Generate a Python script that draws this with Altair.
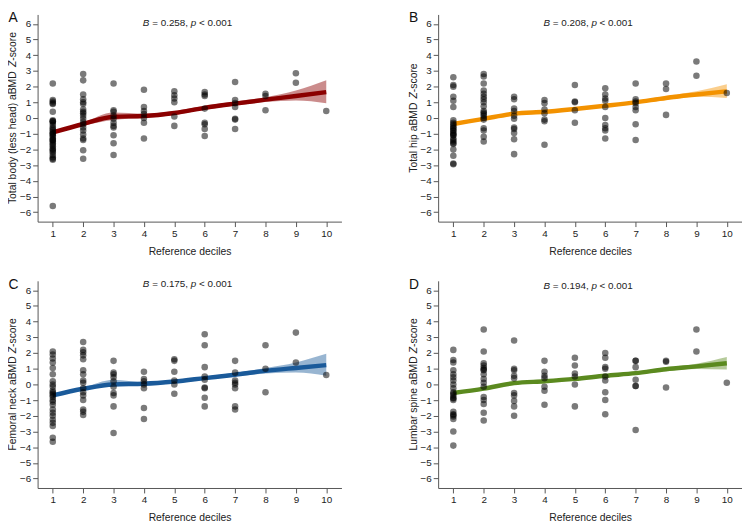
import altair as alt
import pandas as pd

DECILES = list(range(1, 11))
FIT_X = list(range(1, 11))

# ---------- Panel A: Total body (less head) ----------
PTS_A = {
    1: [2.2, 1.15, 1.05, 0.95, 0.9, 0.4, -0.15, -0.2, -0.2, -0.3, -0.45, -0.6, -0.7, -0.8,
        -0.9, -1.0, -1.0, -1.1, -1.2, -1.3, -1.4, -1.4, -1.5, -1.6, -1.7, -1.8, -1.95, -2.0,
        -2.1, -2.2, -2.35, -2.5, -2.6, -2.65, -5.6],
    2: [2.8, 2.4, 1.5, 1.2, 1.0, 0.9, 0.55, 0.4, 0.3, 0.15, -0.05, -0.25, -0.4, -0.6, -0.8,
        -1.05, -1.3, -1.4, -2.05, -2.6],
    3: [2.2, 0.5, 0.4, 0.15, -0.05, -0.3, -0.5, -0.6, -1.1, -1.6, -2.35],
    4: [1.8, 0.7, 0.45, 0.25, 0.0, -0.3, -1.3],
    5: [1.7, 1.45, 1.25, 1.0, 0.1, -0.5],
    6: [1.65, 1.5, 1.4, 0.6, -0.3, -0.4, -0.7, -1.15],
    7: [2.3, 1.15, 0.95, 0.7, -0.05, -0.1, -0.7],
    8: [1.55, 1.4, 0.5],
    9: [2.85, 2.25],
    10: [0.45],
}
FIT_A = [-0.92, -0.38, 0.08, 0.13, 0.32, 0.65, 0.92, 1.17, 1.4, 1.65]
LO_A = [-1.0, -0.48, -0.12, 0.0, 0.2, 0.52, 0.8, 1.02, 1.12, 0.95]
HI_A = [-0.84, -0.28, 0.35, 0.28, 0.45, 0.78, 1.05, 1.32, 1.75, 2.4]

# ---------- Panel B: Total hip ----------
PTS_B = {
    1: [2.6, 2.1, 2.0, 1.35, 1.1, 0.7, -0.15, -0.3, -0.5, -0.65, -0.8, -0.8, -0.95, -1.1,
        -1.1, -1.3, -1.4, -1.5, -1.6, -1.65, -2.0, -2.4, -2.9, -2.95, -0.6, -1.0, -0.4],
    2: [2.8, 2.65, 2.2, 1.75, 1.55, 1.35, 1.2, 1.0, 0.75, 0.45, 0.35, 0.25, 0.15, 0.0, -0.1,
        -0.65, -0.8, -1.2, -1.5],
    3: [1.35, 1.2, 0.6, 0.45, 0.15, -0.05, -0.6, -0.7, -0.95, -1.35, -2.3],
    4: [1.15, 0.95, 0.55, 0.3, -0.1, -0.2, -1.7],
    5: [2.1, 1.05, 1.0, 0.5, -0.3],
    6: [1.9, 1.5, 1.25, 1.1, 0.7, 0.0, -0.45, -0.65, -0.8, -1.3],
    7: [2.2, 1.2, 1.05, 0.95, 0.7, 0.5, -0.4, -1.4],
    8: [2.2, 1.85, 0.2],
    9: [3.6, 2.7],
    10: [1.6],
}
FIT_B = [-0.38, -0.05, 0.28, 0.4, 0.58, 0.78, 1.0, 1.28, 1.5, 1.7]
LO_B = [-0.46, -0.12, 0.2, 0.32, 0.5, 0.7, 0.92, 1.15, 1.35, 1.28]
HI_B = [-0.3, 0.02, 0.36, 0.48, 0.66, 0.86, 1.08, 1.4, 1.7, 2.15]

# ---------- Panel C: Femoral neck ----------
PTS_C = {
    1: [2.1, 1.9, 1.65, 1.4, 1.05, 0.65, 0.2, 0.0, -0.15, -0.4, -0.5, -0.6, -0.8, -1.0,
        -1.3, -1.6, -1.8, -2.0, -2.25, -2.45, -2.65, -3.4, -3.65, -0.7, -1.1],
    2: [2.7, 2.2, 2.05, 1.85, 1.6, 0.9, 0.65, 0.25, 0.1, -0.25, -0.5, -0.7, -1.0, -1.6,
        -1.75, -1.95],
    3: [1.5, 0.75, 0.65, 0.45, 0.2, -0.15, -0.55, -0.7, -1.4, -3.1],
    4: [0.8, 0.35, 0.2, 0.0, -0.25, -1.5, -2.2],
    5: [1.6, 1.5, 0.8, 0.25, 0.0, -0.6],
    6: [3.2, 2.5, 1.1, 0.5, 0.3, -0.2, -0.25, -0.85, -1.4],
    7: [1.5, 0.75, 0.25, 0.1, 0.0, -0.25, -1.4, -1.6],
    8: [2.5, 1.0, -0.5],
    9: [3.3, 1.4],
    10: [0.6],
}
FIT_C = [-0.7, -0.28, 0.0, 0.04, 0.18, 0.4, 0.62, 0.86, 1.05, 1.23]
LO_C = [-0.78, -0.36, -0.12, -0.06, 0.08, 0.3, 0.5, 0.7, 0.76, 0.55]
HI_C = [-0.62, -0.2, 0.3, 0.14, 0.28, 0.5, 0.74, 1.04, 1.4, 1.95]

# ---------- Panel D: Lumbar spine ----------
PTS_D = {
    1: [2.2, 1.55, 1.4, 0.9, 0.65, 0.45, 0.25, 0.0, -0.25, -0.5, -0.7, -0.85, -1.0, -0.6,
        -0.9, -1.75, -1.9, -2.05, -2.2, -1.95, -3.0, -3.9],
    2: [3.5, 2.1, 1.35, 1.2, 1.05, 0.9, 0.65, 0.35, 0.1, -0.15, -0.8, -1.0, -1.25, -1.8,
        -2.3, 0.95],
    3: [2.8, 1.0, 0.9, 0.55, 0.4, -0.55, -0.7, -1.05, -1.4, -2.0],
    4: [1.5, 0.8, 0.55, 0.4, -0.15, -0.4, -1.3],
    5: [1.7, 1.2, 0.7, 0.5, 0.0, -1.4],
    6: [2.0, 1.7, 1.1, 1.0, 0.5, 0.25, -0.5, -1.0, -1.9],
    7: [1.5, 1.5, 1.1, 0.3, -0.1, -0.1, -2.9],
    8: [1.5, 1.45, -0.2],
    9: [3.5, 2.1],
    10: [0.1],
}
FIT_D = [-0.55, -0.27, 0.08, 0.2, 0.35, 0.55, 0.72, 0.97, 1.15, 1.35]
LO_D = [-0.62, -0.34, 0.0, 0.12, 0.27, 0.47, 0.64, 0.86, 0.98, 0.95]
HI_D = [-0.48, -0.2, 0.16, 0.28, 0.43, 0.63, 0.8, 1.08, 1.32, 1.75]

SITES = {
    "A": "Total body (less head) aBMD",
    "B": "Total hip aBMD",
    "C": "Femoral neck aBMD",
    "D": "Lumbar spine aBMD",
}
BVALS = {"A": "0.258", "B": "0.208", "C": "0.175", "D": "0.194"}
COLORS = {"A": "#8b0000", "B": "#f39200", "C": "#1a5a9a", "D": "#5b8a1f"}

FONT = "Liberation Sans"
W, H = 308, 210
FS = 10      # annotation font size
TFS = 10.5   # axis title font size

# Arial / Liberation Sans advance widths (per 1000 em) for placing mixed-style text runs
ADV = {" ": 278, "(": 333, ")": 333, "-": 333, "A": 667, "B": 667, "D": 722, "F": 611,
       "L": 556, "M": 833, "T": 611, "Z": 611, "a": 556, "b": 556, "c": 500, "d": 556,
       "e": 556, "h": 556, "i": 222, "k": 500, "l": 222, "m": 833, "n": 556, "o": 556,
       "p": 556, "r": 333, "s": 500, "t": 278, "u": 556, "y": 500}


def tw(s, fs):
    return sum(ADV.get(ch, 556) for ch in s) * fs / 1000.0


def panel(letter, pts, fit, lo, hi, text_y):
    color = COLORS[letter]
    df_pts = pd.DataFrame([(d, v) for d, vs in pts.items() for v in vs], columns=["decile", "z"])
    df_fit = pd.DataFrame({"decile": FIT_X, "fit": fit, "lo": lo, "hi": hi})

    xscale = alt.Scale(domain=[0.5, 10.5], nice=False, zero=False)
    yscale = alt.Scale(domain=[-6.6, 6.6], nice=False, zero=False)
    xaxis = alt.Axis(values=DECILES, title="Reference deciles", format="d", titlePadding=8)
    yaxis = alt.Axis(values=list(range(-6, 7)), title=None)

    x = alt.X("decile:Q", scale=xscale, axis=xaxis)

    band = alt.Chart(df_fit).mark_area(color=color, opacity=0.45, interpolate="monotone").encode(
        x=x, y=alt.Y("lo:Q", scale=yscale, axis=yaxis), y2="hi:Q")
    line = alt.Chart(df_fit).mark_line(color=color, strokeWidth=4.5, interpolate="monotone").encode(
        x=x, y=alt.Y("fit:Q", scale=yscale, axis=yaxis))
    dots = alt.Chart(df_pts).mark_circle(size=44, color="black", opacity=0.52).encode(
        x=x, y=alt.Y("z:Q", scale=yscale, axis=yaxis))

    one = pd.DataFrame({"k": [0]})
    layers = [band, line, dots]

    # annotation: "B = 0.xxx, p < 0.001" with italic B and p
    total = 9.063 * FS
    start = W / 2 - 2 - total / 2
    segs = [
        ("B", 0.0, "italic"),
        ("= " + BVALS[letter] + ",", 0.945, "normal"),
        ("p", 4.865, "italic"),
        ("< 0.001", 5.699, "normal"),
    ]
    for txt, off, style in segs:
        layers.append(
            alt.Chart(one).mark_text(text=txt, align="left", baseline="middle", font=FONT,
                                     fontSize=FS, fontStyle=style, color="#222").encode(
                x=alt.value(start + off * FS), y=alt.value(text_y))
        )

    # y-axis title with italic Z, drawn as rotated runs
    runs = [(SITES[letter], "normal", tw(SITES[letter] + " ", TFS)),
            ("Z", "italic", tw("Z", TFS)),
            ("-score", "normal", tw("-score", TFS))]
    ttot = sum(r[2] for r in runs)
    ypos = H / 2 + ttot / 2
    for txt, style, wd in runs:
        layers.append(
            alt.Chart(one).mark_text(text=txt, align="left", baseline="middle", angle=270,
                                     font=FONT, fontSize=TFS, fontStyle=style, color="#222").encode(
                x=alt.value(-24.5), y=alt.value(ypos))
        )
        ypos -= wd

    layers.append(
        alt.Chart(one).mark_text(text=letter, align="left", baseline="alphabetic", font=FONT,
                                 fontSize=14, color="#111").encode(
            x=alt.value(-29.5), y=alt.value(8))
    )
    return alt.layer(*layers).properties(width=W, height=H)


pA = panel("A", PTS_A, FIT_A, LO_A, HI_A, 8.5)
pB = panel("B", PTS_B, FIT_B, LO_B, HI_B, 8.5)
pC = panel("C", PTS_C, FIT_C, LO_C, HI_C, 3.5)
pD = panel("D", PTS_D, FIT_D, LO_D, HI_D, 5)

chart = alt.concat(
    pA, pB, pC, pD, columns=2, spacing=alt.RowColnumber(row=60, column=98), bounds="flush"
).properties(padding=0).configure_view(
    stroke=None
).configure_axis(
    grid=False,
    domainColor="#555",
    tickColor="#555",
    labelColor="#222",
    titleColor="#222",
    labelFont=FONT,
    titleFont=FONT,
    labelFontSize=10,
    titleFontSize=TFS,
    titleFontWeight="normal",
    tickSize=5,
    labelPadding=2,
)

chart.save("out.html", embed_options={"renderer": "svg", "actions": False})
